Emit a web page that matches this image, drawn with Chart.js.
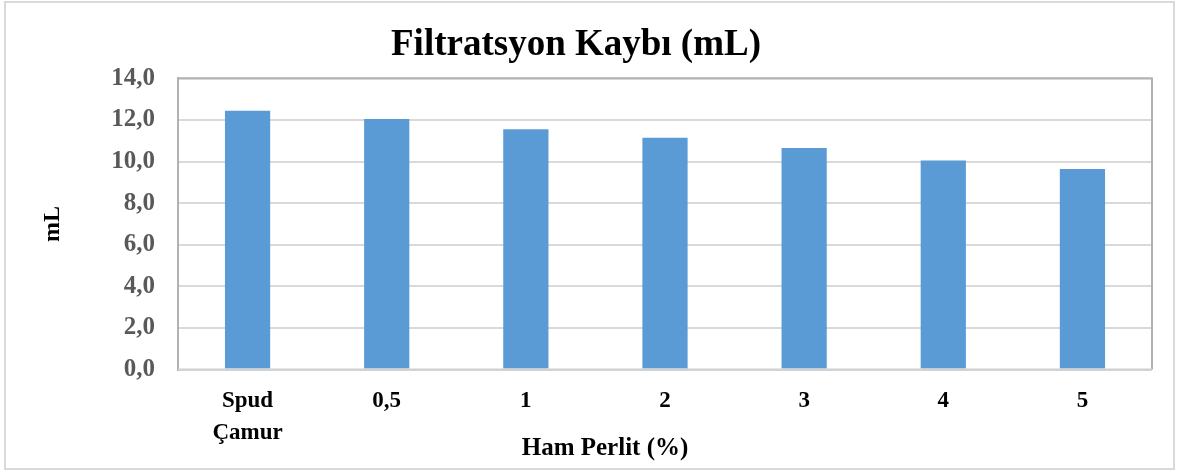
<!DOCTYPE html>
<html>
<head>
<meta charset="utf-8">
<script src="https://cdn.jsdelivr.net/npm/chart.js@4/dist/chart.umd.min.js"></script>
<style>
  html, body { margin: 0; padding: 0; background: #fff; }
  #wrap { position: relative; width: 1177px; height: 470px; }
  #frame { position: absolute; left: 4px; top: 1px; width: 1167px; height: 465px;
           border: 2px solid #d9d9d9; pointer-events: none; }
  canvas { position: absolute; left: 0; top: 0; }
</style>
</head>
<body>
<div id="wrap">
  <canvas id="c" width="1177" height="470"></canvas>
  <div id="frame"></div>
</div>
<script>
// Filtrate loss per perlite dosage
const categories = [['Spud', 'Çamur'], '0,5', '1', '2', '3', '4', '5'];
const filtrateLoss = [12.45, 12.05, 11.55, 11.15, 10.65, 10.05, 9.65];
const yTicks = [0, 2, 4, 6, 8, 10, 12, 14];

const chartTitle = 'Filtratsyon Kaybı (mL)';
const xTitle = 'Ham Perlit (%)';
const yTitle = 'mL';

const serif = '"Liberation Serif", "Times New Roman", serif';

// x-axis caption drawn under the tick labels
const xCaption = {
  id: 'xCaption',
  afterDraw(chart) {
    const { ctx, chartArea } = chart;
    ctx.save();
    ctx.font = 'bold 25px ' + serif;
    ctx.fillStyle = '#000';
    ctx.textAlign = 'center';
    ctx.textBaseline = 'middle';
    const x = chartArea.left + (chartArea.right - chartArea.left) * 0.4384;
    ctx.fillText(xTitle, x, chartArea.bottom + 79);
    ctx.restore();
  }
};

// frame around the plotting area
const plotFrame = {
  id: 'plotFrame',
  afterDatasetsDraw(chart) {
    const { ctx, chartArea: a } = chart;
    ctx.save();
    ctx.strokeStyle = '#b3b0b0';
    ctx.lineWidth = 2;
    ctx.beginPath();
    ctx.moveTo(a.left, a.top);
    ctx.lineTo(a.right, a.top);
    ctx.lineTo(a.right, a.bottom);
    ctx.stroke();
    ctx.strokeStyle = '#d0d0d0';
    ctx.beginPath();
    ctx.moveTo(a.left, a.bottom);
    ctx.lineTo(a.right, a.bottom);
    ctx.stroke();
    ctx.restore();
  }
};

new Chart(document.getElementById('c'), {
  type: 'bar',
  data: {
    labels: categories,
    datasets: [{
      data: filtrateLoss,
      backgroundColor: '#5b9bd5',
      borderWidth: 0,
      barPercentage: 0.325,
      categoryPercentage: 1.0
    }]
  },
  options: {
    responsive: false,
    animation: false,
    devicePixelRatio: 1,
    layout: { padding: { left: 0, right: 25, top: 0, bottom: 6 } },
    plugins: {
      legend: { display: false },
      tooltip: { enabled: false },
      title: {
        display: true,
        text: chartTitle,
        color: '#000',
        font: { family: serif, size: 37, weight: 'bold', lineHeight: 1.2 },
        padding: { top: 23, bottom: 11 }
      }
    },
    scales: {
      x: {
        grid: { display: false, drawTicks: false },
        border: { display: false },
        ticks: {
          color: '#000',
          padding: 15,
          maxRotation: 0,
          autoSkip: false,
          font: { family: serif, size: 23, weight: 'bold', lineHeight: 1.4 }
        }
      },
      y: {
        min: 0,
        max: 14,
        afterFit(scale) { scale.width = 178; },
        afterBuildTicks(scale) { scale.ticks = yTicks.map(v => ({ value: v })); },
        grid: { color: '#d9d9d9', lineWidth: 2, drawTicks: false },
        border: { display: true, color: '#b3b0b0', width: 2 },
        ticks: {
          color: '#595959',
          padding: 23,
          font: { family: serif, size: 25, weight: 'bold' },
          callback: v => v.toFixed(1).replace('.', ',')
        },
        title: {
          display: true,
          text: yTitle,
          color: '#000',
          padding: { top: 38, bottom: 0 },
          font: { family: serif, size: 24, weight: 'bold', lineHeight: 1.2 }
        }
      }
    }
  },
  plugins: [plotFrame, xCaption]
});
</script>
</body>
</html>
